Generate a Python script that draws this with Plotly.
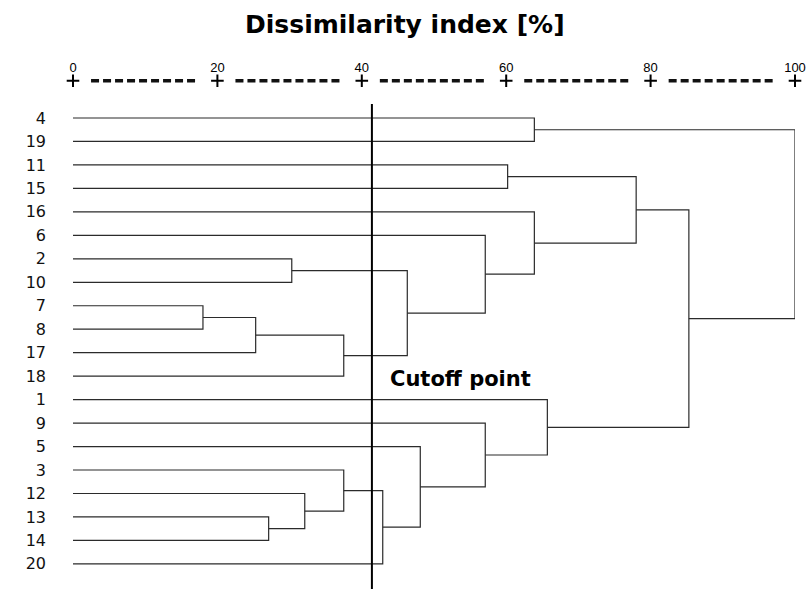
import plotly.graph_objects as go

# ---------------- data ----------------
leaf_order = ["4", "19", "11", "15", "16", "6", "2", "10", "7", "8",
              "17", "18", "1", "9", "5", "3", "12", "13", "14", "20"]

merge_left = ["7", "C1", "C2", "2", "C4", "6", "16", "11", "C8", "4",
              "13", "12", "3", "C13", "5", "9", "1", "C9", "C10"]
merge_right = ["8", "17", "18", "10", "C3", "C5", "C6", "15", "C7", "19",
               "14", "C11", "C12", "20", "C14", "C15", "C16", "C17", "C18"]
merge_height = [18.0, 25.3, 37.5, 30.3, 46.3, 57.1, 63.9, 60.2, 78.0, 63.9,
                27.1, 32.1, 37.5, 42.9, 48.1, 57.1, 65.7, 85.3, 100.0]

tick_vals = [0, 20, 40, 60, 80, 100]
tick_text = ["0", "20", "40", "60", "80", "100"]
cutoff_value = 41.4

title_text = "Dissimilarity index [%]"
cutoff_text = "Cutoff point"

# ---------------- build dendrogram ----------------
pos = {name: float(i) for i, name in enumerate(leaf_order)}
hgt = {name: 0.0 for name in leaf_order}

xs, ys = [], []
for k, (a, b, h) in enumerate(zip(merge_left, merge_right, merge_height)):
    ya, yb = pos[a], pos[b]
    xs += [hgt[a], h, h, hgt[b], None]
    ys += [ya, ya, yb, yb, None]
    cid = "C%d" % (k + 1)
    pos[cid] = (ya + yb) / 2.0
    hgt[cid] = h

# geometry helpers (layout only)
Y_TOP = -1.79
Y_BOT = 20.07
Y_PLUS = -1.59

fig = go.Figure()

fig.add_trace(go.Scatter(
    x=xs, y=ys, mode="lines",
    line=dict(color="#2b2b2b", width=1.2),
    hoverinfo="skip", showlegend=False, cliponaxis=False,
))

# cutoff line
fig.add_trace(go.Scatter(
    x=[cutoff_value, cutoff_value], y=[-0.6, Y_BOT], mode="lines",
    line=dict(color="black", width=2),
    hoverinfo="skip", showlegend=False, cliponaxis=False,
))

# dashed ruler between "+" marks
dx, dy = [], []
for t0, t1 in zip(tick_vals[:-1], tick_vals[1:]):
    dx += [t0 + 2.5, t0 + 17.45, None]
    dy += [Y_PLUS, Y_PLUS, None]
fig.add_trace(go.Scatter(
    x=dx, y=dy, mode="lines",
    line=dict(color="#111111", width=3.5, dash="8px,4px"),
    hoverinfo="skip", showlegend=False, cliponaxis=False,
))
fig.add_trace(go.Scatter(
    x=tick_vals, y=[Y_PLUS] * len(tick_vals), mode="markers",
    marker=dict(symbol="cross-thin", size=9,
                line=dict(color="black", width=2)),
    hoverinfo="skip", showlegend=False, cliponaxis=False,
))

fig.add_annotation(
    x=43.6, y=11.12, xref="x", yref="y", text="<b>%s</b>" % cutoff_text,
    showarrow=False, xanchor="left", yanchor="middle",
    font=dict(family="DejaVu Sans", size=21, color="black"),
)

fig.update_layout(
    width=808, height=589,
    margin=dict(l=73, r=13, t=76, b=0),
    paper_bgcolor="white", plot_bgcolor="white",
    title=dict(text="<b>%s</b>" % title_text, xref="container", x=0.501,
               y=1 - 24 / 589, yanchor="middle", xanchor="center",
               font=dict(family="DejaVu Sans", size=25, color="black")),
    xaxis=dict(range=[0, 100], side="top", tickvals=tick_vals,
               ticktext=tick_text, ticks="", showgrid=False, zeroline=False,
               showline=False,
               tickfont=dict(family="Liberation Sans, Arial", size=13,
                             color="black")),
    yaxis=dict(range=[Y_BOT, Y_TOP], tickvals=list(range(len(leaf_order))),
               ticktext=leaf_order, ticks="", showgrid=False, zeroline=False,
               showline=False, ticklabelstandoff=26,
               tickfont=dict(family="DejaVu Sans", size=16, color="#111111")),
)

fig.write_html(
    "out.html",
    config={"displayModeBar": False},
    post_script="document.body.style.margin='0';"
                "document.documentElement.style.overflow='hidden';",
)
